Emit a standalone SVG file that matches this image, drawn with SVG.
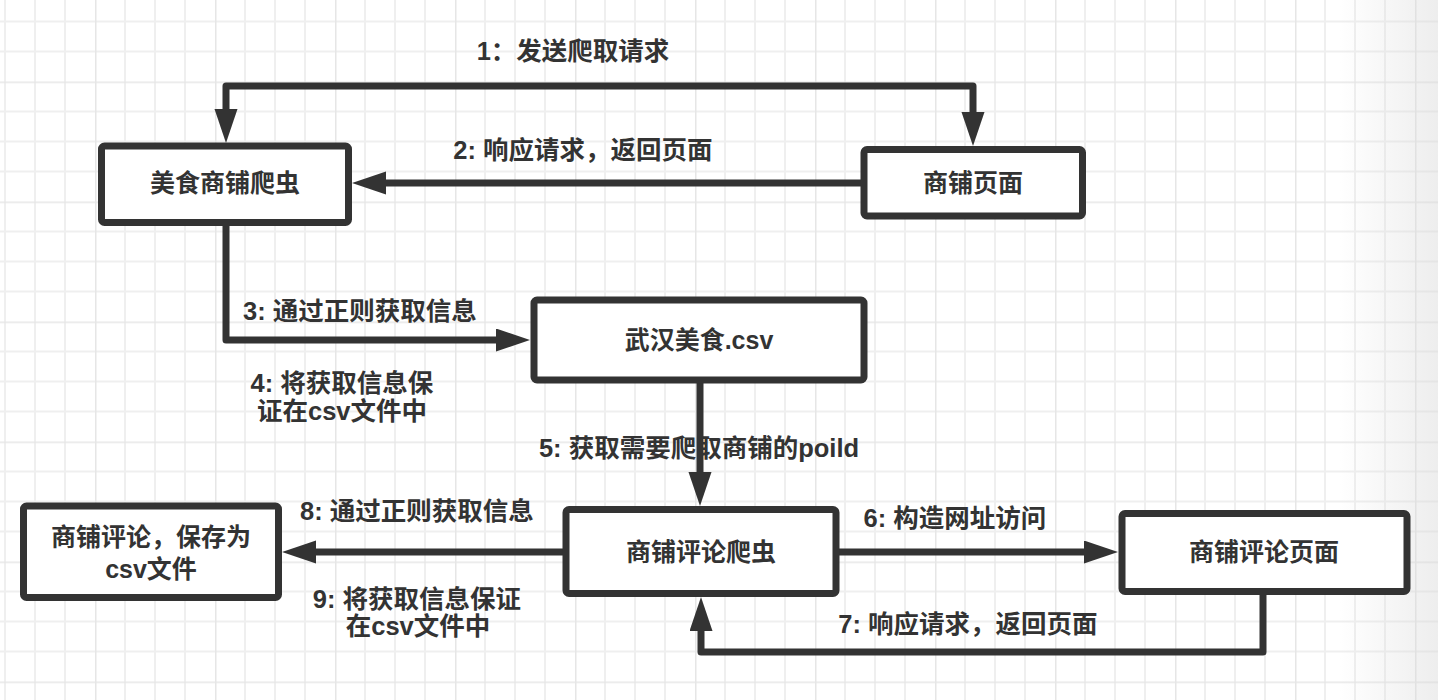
<svg xmlns="http://www.w3.org/2000/svg" width="1438" height="700" viewBox="0 0 1438 700">
<defs>
<style>
.node rect{fill:#fff;stroke:#333;stroke-width:7;}
.node text,.lbl text{font-family:"Liberation Sans","Noto Sans CJK SC",sans-serif;font-weight:bold;font-size:25px;fill:#333;text-anchor:middle;dominant-baseline:central;}
.lbl text{font-size:25.5px;}
.edge{fill:none;stroke:#333;stroke-width:7;stroke-linejoin:round;}
</style>
<pattern id="grid" patternUnits="userSpaceOnUse" x="95" y="81.5" width="120" height="120">
<path d="M30,0V120M60,0V120M90,0V120M0,30H120M0,60H120M0,90H120" stroke="#efefef" stroke-width="2" fill="none"/>
<path d="M0,0V120M0,0H120" stroke="#e6e6e6" stroke-width="3" fill="none"/>
</pattern>
<linearGradient id="shade" x1="0" y1="0" x2="1" y2="0">
<stop offset="0" stop-color="#d8d8d8" stop-opacity="0"/>
<stop offset="1" stop-color="#d8d8d8" stop-opacity="0.45"/>
</linearGradient>
<marker id="arr" markerUnits="userSpaceOnUse" markerWidth="36" markerHeight="24" refX="0" refY="11.5" orient="auto-start-reverse" viewBox="0 0 36 24">
<path d="M0,0L34,11.5L0,23Z" fill="#333"/>
</marker>
</defs>
<rect width="1438" height="700" fill="#fff"/>
<rect width="1438" height="700" fill="url(#grid)"/>
<rect x="1340" y="0" width="98" height="700" fill="url(#shade)"/>

<g id="labels" class="lbl">
<text x="573" y="51">1：发送爬取请求</text>
<text x="583" y="150">2: 响应请求，返回页面</text>
<text x="360" y="311">3: 通过正则获取信息</text>
<text x="342" y="383">4: 将获取信息保</text>
<text x="342" y="411">证在csv文件中</text>
<text x="699" y="448">5: 获取需要爬取商铺的poild</text>
<text x="955" y="518">6: 构造网址访问</text>
<text x="968" y="624">7: 响应请求，返回页面</text>
<text x="417" y="511">8: 通过正则获取信息</text>
<text x="417" y="599">9: 将获取信息保证</text>
<text x="418" y="626">在csv文件中</text>
</g>

<g id="connectors">
<path class="edge" d="M226,109V86H973V112" marker-start="url(#arr)" marker-end="url(#arr)"/>
<path class="edge" d="M861,183H386" marker-end="url(#arr)"/>
<path class="edge" d="M226,226V340H496" marker-end="url(#arr)"/>
<path class="edge" d="M700,383V472" marker-end="url(#arr)"/>
<path class="edge" d="M839,552H1084" marker-end="url(#arr)"/>
<path class="edge" d="M1263,595V652H701V631" marker-end="url(#arr)"/>
<path class="edge" d="M563,552H316" marker-end="url(#arr)"/>
</g>

<g id="n1" class="node"><rect x="101.5" y="146" width="247" height="76.5" rx="3"/><text x="225" y="183">美食商铺爬虫</text></g>
<g id="n2" class="node"><rect x="864" y="149.5" width="218.5" height="66.5" rx="3"/><text x="973" y="183">商铺页面</text></g>
<g id="n3" class="node"><rect x="534" y="300" width="330" height="80" rx="3"/><text x="699" y="340">武汉美食.csv</text></g>
<g id="n4" class="node"><rect x="566" y="509.5" width="270" height="84" rx="3"/><text x="701" y="552">商铺评论爬虫</text></g>
<g id="n5" class="node"><rect x="1122" y="513.5" width="285" height="78" rx="3"/><text x="1264" y="552">商铺评论页面</text></g>
<g id="n6" class="node"><rect x="23.5" y="506" width="255" height="91.5" rx="3"/><text x="151" y="537">商铺评论，保存为</text><text x="151" y="569">csv文件</text></g>
</svg>
